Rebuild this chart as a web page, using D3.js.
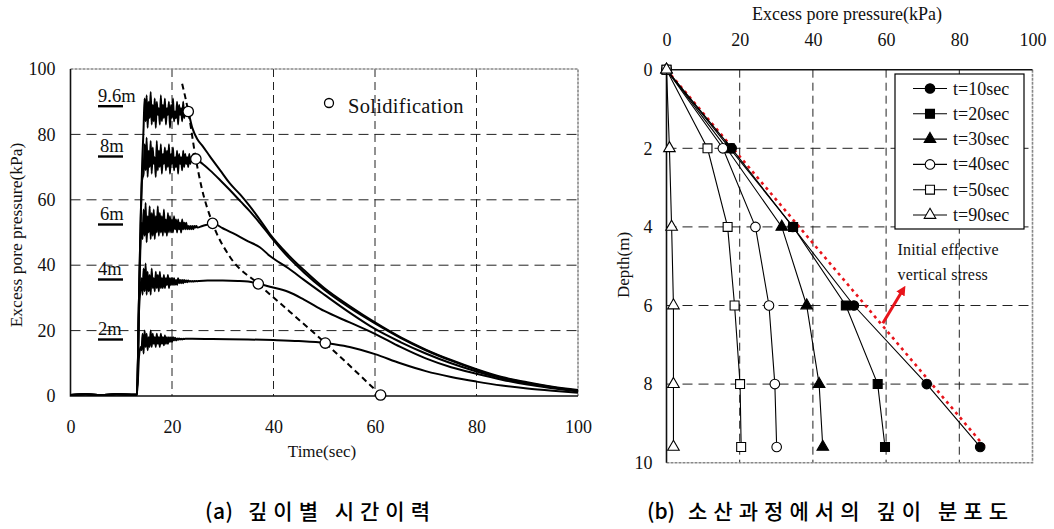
<!DOCTYPE html>
<html>
<head>
<meta charset="utf-8">
<script src="https://cdn.jsdelivr.net/npm/d3@7"></script>
<style>
  body { margin: 0; background: #fff; }
  svg text { font-family: "Liberation Serif", "Times New Roman", serif; fill: #111; }
  svg text.caption { font-family: "Noto Sans CJK KR", sans-serif; font-weight: 500; fill: #000; }
</style>
</head>
<body>
<svg id="chart" width="1054" height="529"></svg>
<script>
// ---- (a) time histories by depth ----
const timeTicks = [0, 20, 40, 60, 80, 100];
const pressureTicks = [0, 20, 40, 60, 80, 100];
const depthNames = ['9.6m', '8m', '6m', '4m', '2m'];

// record before shaking (same for every gauge)
const beforeShake = [[0, 0.3], [3, 0.5], [6, 0.3], [9, 0.5], [12, 0.4], [13.1, 0.4]];

// rising part, shaking part (sampled every shakeStep sec), dissipation part
const shakeStep = 0.2;
const shakeStart = [14.6, 14.4, 14.0, 14.0, 14.0];

const rise96 = [[13.5, 30], [13.8, 52], [14.1, 70], [14.4, 82]];
const shake96 = [91,84,92,82,90,85,93,83,89,84,91,82,90,86,88,83,92,84,89,85,91,83,88,86,90,82,89,85,91,84,87,85,90,83,89,86,88,84,90,85,88,86,88];
const decay96 = [[23.2,87],[24,82],[25,78.5],[26,76.5],[27.5,73.2],[29.5,69],[31.4,65],[33.5,61.5],[35.4,57.9],[37.5,53.5],[39.3,49.5],[43,43],[46,38.5],[50,33],[55,27.5],[60,22.5],[65,18],[70,14.2],[75,11],[80,8.2],[85,5.8],[90,4.2],[95,2.8],[100,1.8]];

const rise8 = [[13.5, 30], [13.8, 52], [14.1, 66]];
const shake8 = [68,77,69,79,67,75,70,78,68,76,71,73,67,78,69,75,70,77,68,74,71,76,69,75,70,77,68,74,71,76,69,73,70,75,68,74,71,73,69,75,70,74,71,73,70,74,71,73,72,74,72];
const decay8 = [[24.7,72.5],[26,71],[27.5,69],[29.5,66],[31.4,63],[33.5,59.5],[35.4,56.4],[37.5,52.5],[39.3,49],[43,42.3],[46,37.8],[50,32.5],[55,27],[60,22.2],[65,17.8],[70,14],[75,10.8],[80,8],[85,5.6],[90,4],[95,2.7],[100,1.6]];

const rise6 = [[13.5, 30], [13.8, 47]];
const shake6 = [53,48,57,49,59,47,55,50,58,48,56,49,57,48,55,50,58,49,56,50,55,49,57,50,54,49,56,50,55,50,54,50,55,51,54,50,54,51,53,50,54,51,53,51,53,51,52,51,52,51,52,51,52,51.5,52,51.5];
const decay6 = [[26,52],[27,52.4],[28,52.8],[30,51.3],[32,49.8],[35,47.3],[37.3,45.5],[39.3,42.8],[43,39],[46,35.5],[50,31],[55,25.5],[60,20.5],[65,16.5],[70,13],[75,10],[80,7.5],[85,5.4],[90,3.8],[95,2.6],[100,1.6]];

const rise4 = [[13.5, 26], [13.8, 33]];
const shake4 = [36,31,39,32,40.5,31,38,32,37,31,39,33,36,32,38,33,37,32,38,33,36,33,37,33,36,34,37,33,36,34,36,34,36,34,35.5,34,36,34.5,35.5,34.5,35.5,34.5,35.5,34.8,35.3,34.8,35.3,35,35.2,35,35.2,35,35.2,35.1,35.2,35.1,35.2,35.2];
const decay4 = [[27,35.3],[30,35.3],[33,35.2],[35,35],[37,34.3],[39.3,33.4],[43,31.8],[46,29.5],[50,26],[55,22.5],[60,19],[65,15],[70,11.5],[75,8.8],[80,6.8],[85,5],[90,3.5],[95,2.4],[100,1.4]];

const rise2 = [[13.5, 12], [13.8, 15]];
const shake2 = [14,19,13,20,15,19,14,18,15,20,15,19,16,18,15,19,16,18,15,19,16,18,15.5,18.5,16,18,16,18,16.5,18,16.5,18,17,17.8,17,17.6,17.2,17.6,17.3,17.5,17.3,17.5,17.4,17.5];
const decay2 = [[24,17.5],[28,17.4],[35,17.3],[40,17.1],[45,16.8],[50.2,16.2],[52,15.8],[55,15],[60,12.8],[65,10],[70,7.6],[75,5.8],[80,4.4],[85,3.2],[90,2.3],[95,1.6],[100,1]];

// solidification points and the dashed line through them
const solidTimes = [23.2, 24.7, 28, 37, 50.2, 61.1];
const solidValues = [87, 72.5, 52.8, 34.3, 16.2, 0.3];
const solidLineTimes = [22.0, 23.2, 24.7, 25.8, 28, 31.4, 37, 43.2, 50.2, 61.1];
const solidLineValues = [95.5, 87, 72.5, 64, 52.8, 42.6, 34.3, 25.8, 16.2, 0.3];

// ---- (b) depth profiles ----
const depthTicks = [0, 2, 4, 6, 8, 10];
const profilePressureTicks = [0, 20, 40, 60, 80, 100];
const depths = [0, 2, 4, 6, 8, 9.6];
const profileLabels = ['t=10sec', 't=20sec', 't=30sec', 't=40sec', 't=50sec', 't=90sec'];
const p10 = [0, 17.8, 34.5, 51.2, 71.1, 85.7];
const p20 = [0, 17.3, 34.6, 49.0, 57.7, 59.7];
const p30 = [0, 16.4, 31.5, 38.3, 41.7, 42.7];
const p40 = [0, 15.4, 24.3, 28.0, 29.6, 30.1];
const p50 = [0, 11.2, 16.7, 18.6, 20.1, 20.4];
const p90 = [0, 0.8, 1.4, 1.9, 1.9, 1.9];
const stressPressure = [0, 87];
const stressDepth = [0, 9.6];

const svg = d3.select('#chart');
const serif = '"Liberation Serif", "Times New Roman", serif';

// ======================= chart (a) =======================
const x = d3.scaleLinear().domain([0, 100]).range([70.5, 578]);
const y = d3.scaleLinear().domain([0, 100]).range([396, 69]);
const ga = svg.append('g');

// grid lines
ga.selectAll('.vgrid').data(timeTicks.slice(1, -1)).enter().append('line')
    .attr('x1', d => x(d)).attr('x2', d => x(d))
    .attr('y1', y(100)).attr('y2', y(0))
    .attr('stroke', '#222').attr('stroke-width', 1).attr('stroke-dasharray', '8,5');
ga.selectAll('.hgrid').data(pressureTicks.slice(1, -1)).enter().append('line')
    .attr('x1', x(0)).attr('x2', x(100))
    .attr('y1', d => y(d)).attr('y2', d => y(d))
    .attr('stroke', '#222').attr('stroke-width', 1).attr('stroke-dasharray', '10,6');

// frame: grey top/right, black left/bottom
ga.append('path')
    .attr('d', `M${x(0)},${y(100)}H${x(100)}V${y(0)}`)
    .attr('fill', 'none').attr('stroke', '#888').attr('stroke-width', 1.6).attr('stroke-dasharray', '3,1');
ga.append('path')
    .attr('d', `M${x(0)},${y(100)}V${y(0)}H${x(100)}`)
    .attr('fill', 'none').attr('stroke', '#111').attr('stroke-width', 1.6);

// axes
ga.append('g')
    .attr('transform', `translate(${x(0)},0)`)
    .call(d3.axisLeft(y).tickValues(pressureTicks).tickSize(0).tickPadding(15))
    .call(g => g.select('.domain').remove())
    .attr('font-family', serif).attr('font-size', 18);
ga.append('g')
    .attr('transform', `translate(0,${y(0)})`)
    .call(d3.axisBottom(x).tickValues(timeTicks).tickSize(0).tickPadding(24))
    .call(g => g.select('.domain').remove())
    .attr('font-family', serif).attr('font-size', 18);

ga.append('text')
    .attr('x', 322).attr('y', 457)
    .attr('text-anchor', 'middle').attr('font-size', 17)
    .text('Time(sec)');
ga.append('text')
    .attr('transform', 'translate(22,235) rotate(-90)')
    .attr('text-anchor', 'middle').attr('font-size', 17.5)
    .text('Excess pore pressure(kPa)');

// build each gauge record from its parts
function buildRecord(rise, shake, start, decay) {
    const pts = beforeShake.concat(rise);
    shake.forEach((v, i) => pts.push([start + i * shakeStep, v]));
    return pts.concat(decay);
}
const records = [
    buildRecord(rise96, shake96, shakeStart[0], decay96),
    buildRecord(rise8, shake8, shakeStart[1], decay8),
    buildRecord(rise6, shake6, shakeStart[2], decay6),
    buildRecord(rise4, shake4, shakeStart[3], decay4),
    buildRecord(rise2, shake2, shakeStart[4], decay2)
];

const recLine = d3.line()
    .x(d => x(d[0]))
    .y(d => y(d[1]))
    .curve(d3.curveMonotoneX);

ga.selectAll('.rec').data(records).enter().append('path')
    .attr('d', recLine)
    .attr('fill', 'none').attr('stroke', '#000').attr('stroke-width', 2)
    .attr('stroke-linejoin', 'round');

// dashed solidification line
const solidLine = d3.line()
    .x((d, i) => x(solidLineTimes[i]))
    .y(d => y(d))
    .curve(d3.curveMonotoneX);
ga.append('path')
    .datum(solidLineValues)
    .attr('d', solidLine)
    .attr('fill', 'none').attr('stroke', '#000').attr('stroke-width', 2).attr('stroke-dasharray', '6,4');

ga.selectAll('.solid').data(solidValues).enter().append('circle')
    .attr('cx', (d, i) => x(solidTimes[i]))
    .attr('cy', d => y(d))
    .attr('r', 5.2)
    .attr('fill', '#fff').attr('stroke', '#000').attr('stroke-width', 1.3);

// depth labels with underline
const labelBase = [101.7, 152, 220, 275, 335];
const labelX = [98, 100, 100, 98, 98];
depthNames.forEach((name, i) => {
    ga.append('text')
        .attr('x', labelX[i]).attr('y', labelBase[i])
        .attr('font-size', 18.5)
        .text(name);
    ga.append('line')
        .attr('x1', 98).attr('x2', 123)
        .attr('y1', labelBase[i] + 4.5).attr('y2', labelBase[i] + 4.5)
        .attr('stroke', '#000').attr('stroke-width', 2.4);
});

// legend
ga.append('circle')
    .attr('cx', 329).attr('cy', 103).attr('r', 4.5)
    .attr('fill', '#fff').attr('stroke', '#000').attr('stroke-width', 1.3);
ga.append('text')
    .attr('x', 348).attr('y', 113)
    .attr('font-size', 20.5).attr('letter-spacing', 0.3)
    .text('Solidification');

// ======================= chart (b) =======================
const xr = d3.scaleLinear().domain([0, 100]).range([666.5, 1032.5]);
const yr = d3.scaleLinear().domain([0, 10]).range([69.7, 462.7]);
const gb = svg.append('g');

gb.selectAll('.vgrid').data(profilePressureTicks.slice(1, -1)).enter().append('line')
    .attr('x1', d => xr(d)).attr('x2', d => xr(d))
    .attr('y1', yr(0)).attr('y2', yr(10))
    .attr('stroke', '#222').attr('stroke-width', 1).attr('stroke-dasharray', '8,5');
gb.selectAll('.hgrid').data(depthTicks.slice(1, -1)).enter().append('line')
    .attr('x1', xr(0)).attr('x2', xr(100))
    .attr('y1', d => yr(d)).attr('y2', d => yr(d))
    .attr('stroke', '#222').attr('stroke-width', 1).attr('stroke-dasharray', '10,6');

gb.append('path')
    .attr('d', `M${xr(100)},${yr(0)}V${yr(10)}H${xr(0)}`)
    .attr('fill', 'none').attr('stroke', '#888').attr('stroke-width', 1.6).attr('stroke-dasharray', '3,1');
gb.append('path')
    .attr('d', `M${xr(0)},${yr(10)}V${yr(0)}H${xr(100)}`)
    .attr('fill', 'none').attr('stroke', '#111').attr('stroke-width', 1.6);

gb.append('g')
    .attr('transform', `translate(0,${yr(0)})`)
    .call(d3.axisTop(xr).tickValues(profilePressureTicks).tickSize(0).tickPadding(24))
    .call(g => g.select('.domain').remove())
    .attr('font-family', serif).attr('font-size', 18);
gb.append('g')
    .attr('transform', `translate(${xr(0)},0)`)
    .call(d3.axisLeft(yr).tickValues(depthTicks).tickSize(0).tickPadding(14))
    .call(g => g.select('.domain').remove())
    .attr('font-family', serif).attr('font-size', 18);

gb.append('text')
    .attr('x', 847).attr('y', 20)
    .attr('text-anchor', 'middle').attr('font-size', 18)
    .text('Excess pore pressure(kPa)');
gb.append('text')
    .attr('transform', 'translate(629,265) rotate(-90)')
    .attr('text-anchor', 'middle').attr('font-size', 17)
    .text('Depth(m)');

// initial effective vertical stress
gb.append('line')
    .attr('x1', xr(stressPressure[0])).attr('y1', yr(stressDepth[0]))
    .attr('x2', xr(stressPressure[1])).attr('y2', yr(stressDepth[1]))
    .attr('stroke', '#e8141b').attr('stroke-width', 2.6).attr('stroke-dasharray', '3,4');

const profiles = [p10, p20, p30, p40, p50, p90];
const symbols = [d3.symbolCircle, d3.symbolSquare, d3.symbolTriangle, d3.symbolCircle, d3.symbolSquare, d3.symbolTriangle];
const sizes = [72, 80, 58, 72, 80, 58];
const fills = ['#000', '#000', '#000', '#fff', '#fff', '#fff'];

const profLine = d3.line()
    .x(d => xr(d))
    .y((d, i) => yr(depths[i]));

profiles.forEach((p, k) => {
    gb.append('path')
        .datum(p)
        .attr('d', profLine)
        .attr('fill', 'none').attr('stroke', '#000').attr('stroke-width', 1.1);
    gb.selectAll('.m' + k).data(p).enter().append('path')
        .attr('transform', (d, i) => `translate(${xr(d)},${yr(depths[i])})`)
        .attr('d', d3.symbol().type(symbols[k]).size(sizes[k]))
        .attr('fill', fills[k]).attr('stroke', '#000').attr('stroke-width', 1.1);
});

// legend box
const leg = gb.append('g');
leg.append('rect')
    .attr('x', 895).attr('y', 74).attr('width', 129).attr('height', 155)
    .attr('fill', '#fff').attr('stroke', '#000').attr('stroke-width', 1.2);
profileLabels.forEach((lab, k) => {
    const ly = 88.5 + k * 25.3;
    leg.append('line')
        .attr('x1', 913).attr('x2', 947).attr('y1', ly).attr('y2', ly)
        .attr('stroke', '#000').attr('stroke-width', 1.1);
    leg.append('path')
        .attr('transform', `translate(930,${ly})`)
        .attr('d', d3.symbol().type(symbols[k]).size(sizes[k]))
        .attr('fill', fills[k]).attr('stroke', '#000').attr('stroke-width', 1.1);
    leg.append('text')
        .attr('x', 953).attr('y', ly + 6)
        .attr('font-size', 18)
        .text(lab);
});

// annotation
gb.append('text')
    .attr('x', 897.5).attr('y', 255)
    .attr('font-size', 16).attr('letter-spacing', 0.2)
    .text('Initial effective');
gb.append('text')
    .attr('x', 897.5).attr('y', 279.5)
    .attr('font-size', 16).attr('letter-spacing', 0.2)
    .text('vertical stress');

svg.append('defs').append('marker')
    .attr('id', 'arrow')
    .attr('viewBox', '0 0 10 10')
    .attr('refX', 5).attr('refY', 5)
    .attr('markerWidth', 3.2).attr('markerHeight', 3.2)
    .attr('orient', 'auto')
    .append('path')
    .attr('d', 'M0,0L10,5L0,10z')
    .attr('fill', '#e8141b');
gb.append('line')
    .attr('x1', xr(59.1)).attr('y1', yr(6.45))
    .attr('x2', xr(64.6)).attr('y2', yr(5.6))
    .attr('stroke', '#e8141b').attr('stroke-width', 3)
    .attr('marker-end', 'url(#arrow)');

// ======================= captions =======================
const captionParts = [
    { text: '(a)', x: 205, w: 28 },
    { text: '깊이별 시간이력', x: 248, w: 182 },
    { text: '(b)', x: 647, w: 28 },
    { text: '소산과정에서의 깊이 분포도', x: 688, w: 320 }
];
svg.selectAll('.caption').data(captionParts).enter().append('text')
    .attr('class', 'caption')
    .attr('x', d => d.x).attr('y', 519)
    .attr('font-size', 21)
    .attr('textLength', d => d.w).attr('lengthAdjust', 'spacing')
    .text(d => d.text);
</script>
</body>
</html>
